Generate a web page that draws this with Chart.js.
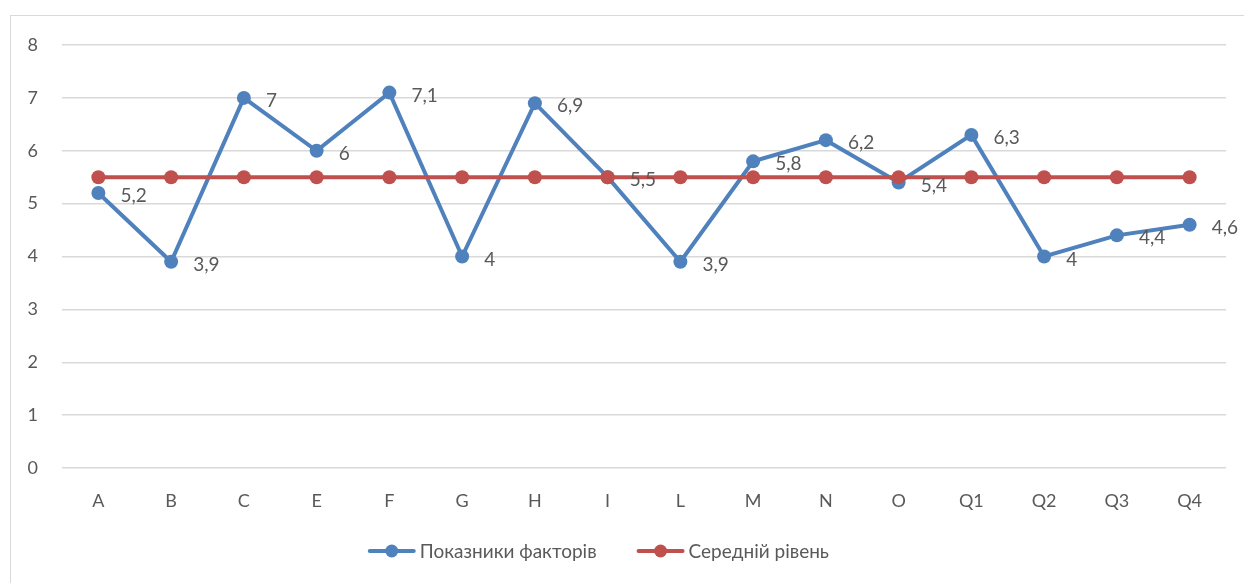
<!DOCTYPE html>
<html>
<head>
<meta charset="utf-8">
<script src="https://cdn.jsdelivr.net/npm/chart.js@4.4.1/dist/chart.umd.min.js"></script>
<style>
    body { margin: 0; background: #fff; overflow: hidden; }
    #wrap { position: relative; width: 1244px; height: 583px; }
    #frame { position: absolute; left: 10px; top: 15px; width: 1260px; height: 600px; border: 1px solid #d9d9d9; box-sizing: border-box; }
    canvas { position: absolute; left: 0; top: 0; }
</style>
</head>
<body>
<div id="wrap">
    <div id="frame"></div>
    <canvas id="myChart" width="1244" height="583"></canvas>
</div>
<script>
var categories = ["A", "B", "C", "E", "F", "G", "H", "I", "L", "M", "N", "O", "Q1", "Q2", "Q3", "Q4"];
var factorValues = [5.2, 3.9, 7, 6, 7.1, 4, 6.9, 5.5, 3.9, 5.8, 6.2, 5.4, 6.3, 4, 4.4, 4.6];
var averageValues = [5.5, 5.5, 5.5, 5.5, 5.5, 5.5, 5.5, 5.5, 5.5, 5.5, 5.5, 5.5, 5.5, 5.5, 5.5, 5.5];
var yTicks = [0, 1, 2, 3, 4, 5, 6, 7, 8];

var blue = "#4f81bd";
var red = "#c0504d";
var textColor = "#595959";
var fontFamily = "Lato, 'Open Sans', sans-serif";

// labels to the right of the blue points
var pointLabels = {
    id: "pointLabels",
    afterDatasetsDraw: function(chart) {
        var ctx = chart.ctx;
        var meta = chart.getDatasetMeta(0);
        ctx.save();
        ctx.font = "19px " + fontFamily;
        ctx.fillStyle = textColor;
        ctx.textAlign = "left";
        ctx.textBaseline = "middle";
        meta.data.forEach(function(pt, i) {
            var txt = String(factorValues[i]).replace(".", ",");
            ctx.fillText(txt, pt.x + 22, pt.y + 3);
        });
        ctx.restore();
    }
};

// legend drawn by hand: line with a dot, then the label
var bottomLegend = {
    id: "bottomLegend",
    afterDraw: function(chart) {
        var ctx = chart.ctx;
        var ds = chart.data.datasets;
        ctx.save();
        ctx.font = "19px " + fontFamily;
        var markW = 48, textGap = 4, itemGap = 40;
        var total = 0;
        ds.forEach(function(d, i) {
            total += markW + textGap + ctx.measureText(d.label).width;
            if (i < ds.length - 1) total += itemGap;
        });
        var x = chart.width * 0.481 - total / 2;
        var y = chart.height - 32;
        ds.forEach(function(d) {
            ctx.strokeStyle = d.borderColor;
            ctx.lineWidth = 4;
            ctx.lineCap = "round";
            ctx.beginPath();
            ctx.moveTo(x + 2, y);
            ctx.lineTo(x + markW - 2, y);
            ctx.stroke();
            ctx.fillStyle = d.borderColor;
            ctx.beginPath();
            ctx.arc(x + markW / 2, y, 6.5, 0, Math.PI * 2);
            ctx.fill();
            x += markW + textGap;
            ctx.fillStyle = textColor;
            ctx.textAlign = "left";
            ctx.textBaseline = "middle";
            ctx.fillText(d.label, x, y + 1);
            x += ctx.measureText(d.label).width + itemGap;
        });
        ctx.restore();
    }
};

var ctx = document.getElementById("myChart").getContext("2d");
var chart = new Chart(ctx, {
    type: "line",
    data: {
        labels: categories,
        datasets: [{
                label: "Показники факторів",
                data: factorValues,
                borderColor: blue,
                backgroundColor: blue,
                borderWidth: 4,
                pointRadius: 7,
                pointHoverRadius: 7,
                pointBackgroundColor: blue,
                pointBorderColor: blue,
                pointBorderWidth: 0,
                tension: 0,
                order: 2
            },
            {
                label: "Середній рівень",
                data: averageValues,
                borderColor: red,
                backgroundColor: red,
                borderWidth: 4,
                pointRadius: 7,
                pointHoverRadius: 7,
                pointBackgroundColor: red,
                pointBorderColor: red,
                pointBorderWidth: 0,
                tension: 0,
                order: 1
            }
        ]
    },
    options: {
        responsive: false,
        animation: false,
        events: [],
        layout: {
            padding: { left: 0, right: 18, top: 45, bottom: 49 }
        },
        plugins: {
            tooltip: { enabled: false },
            legend: { display: false }
        },
        scales: {
            x: {
                offset: true,
                grid: { display: false, drawTicks: false },
                border: { display: false },
                ticks: {
                    color: textColor,
                    font: { family: fontFamily, size: 18 },
                    padding: 22
                },
                afterFit: function(scale) { scale.height = 66; }
            },
            y: {
                min: 0,
                max: 8,
                afterBuildTicks: function(scale) {
                    scale.ticks = yTicks.map(function(v) { return { value: v }; });
                },
                grid: { color: "#d9d9d9", lineWidth: 1.5, drawTicks: false },
                border: { display: false },
                ticks: {
                    color: textColor,
                    font: { family: fontFamily, size: 18 },
                    padding: 24
                },
                afterFit: function(scale) { scale.width = 62; }
            }
        }
    },
    plugins: [pointLabels, bottomLegend]
});
</script>
</body>
</html>
